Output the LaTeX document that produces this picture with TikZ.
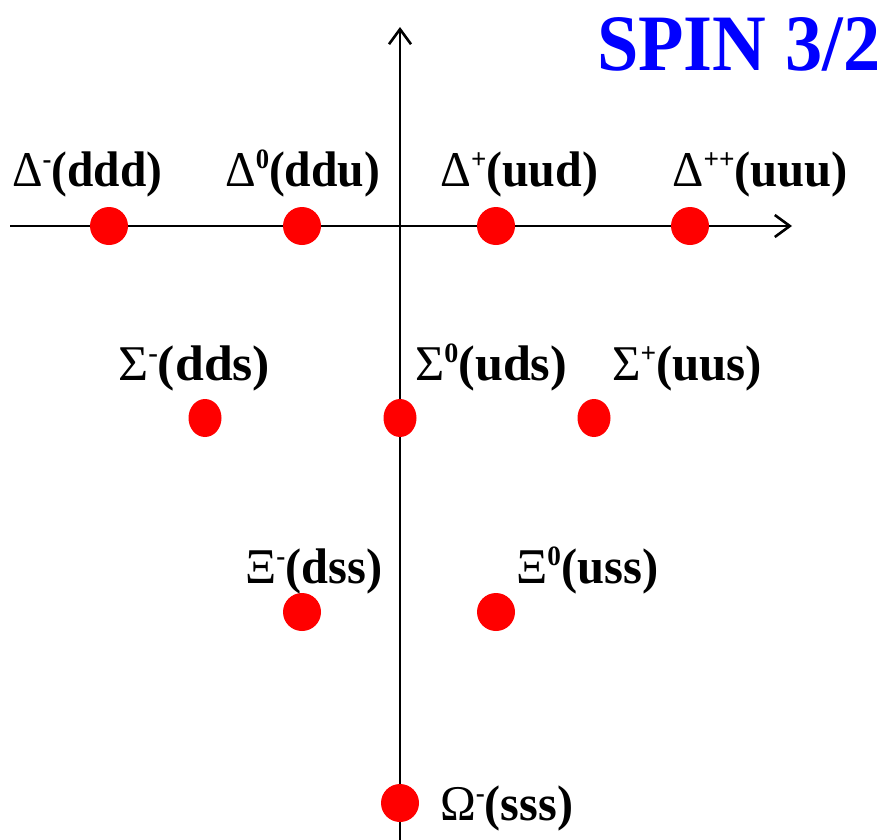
\documentclass[tikz,border=0pt]{standalone}
\usepackage{fontspec}
\setmainfont{Liberation Serif}
\usetikzlibrary{arrows.meta,shapes.geometric}
\newcommand\mylbl[2]{\resizebox{#1pt}{\height}{#2}}
\newcommand\gk[1]{{\mdseries #1}}
\newcommand\sups[1]{\raisebox{18pt}{\fontsize{28}{28}\selectfont #1}}
\tikzset{
  axis/.style={line width=2.8pt,-{Straight Barb[length=15pt,width=22pt,line width=2.6pt]}},
  dot/.style={circle,fill=red,minimum size=38pt,inner sep=0pt},
  edot/.style={ellipse,fill=red,minimum width=33pt,minimum height=38pt,inner sep=0pt},
  lblb/.style={anchor=base west,inner sep=0pt,font=\fontsize{50}{60}\selectfont\bfseries},
}
\begin{document}
\begin{tikzpicture}[x=1pt,y=-1pt]
\useasboundingbox (0,0) rectangle (886,839);
% axes
\coordinate (xl) at (10,226);
\coordinate (xr) at (792,226);
\coordinate (yb) at (400,845);
\coordinate (yt) at (400,27);
\draw[axis] (xl) -- (xr);
\draw[axis] (yb) -- (yt);
% dots
\node[dot] (dm) at (109,226) {};
\node[dot] (d0) at (302,226) {};
\node[dot] (dp) at (496,226) {};
\node[dot] (dpp) at (690,226) {};
\node[edot] (sm) at (205,418) {};
\node[edot] (s0) at (400,418) {};
\node[edot] (sp) at (594,418) {};
\node[dot] (xm) at (302,612) {};
\node[dot] (x0) at (496,612) {};
\node[dot] (om) at (400,803) {};
% labels
\node[lblb] (ldm) at (12,186) {\mylbl{150}{\gk{Δ}\sups{-}(ddd)}};
\node[lblb] (ld0) at (225,186) {\mylbl{155}{\gk{Δ}\sups{0}(ddu)}};
\node[lblb] (ldp) at (440,186) {\mylbl{158}{\gk{Δ}\sups{+}(uud)}};
\node[lblb] (ldpp) at (672,186) {\mylbl{176}{\gk{Δ}\sups{++}(uuu)}};
\node[lblb] (lsm) at (118,380) {\mylbl{152}{\gk{Σ}\sups{-}(dds)}};
\node[lblb] (ls0) at (415,380) {\mylbl{152}{\gk{Σ}\sups{0}(uds)}};
\node[lblb] (lsp) at (612,380) {\mylbl{150}{\gk{Σ}\sups{+}(uus)}};
\node[lblb] (lxm) at (245,583) {\mylbl{137}{\gk{Ξ}\sups{-}(dss)}};
\node[lblb] (lx0) at (516,583) {\mylbl{142}{\gk{Ξ}\sups{0}(uss)}};
\node[lblb] (lom) at (440,820) {\mylbl{133}{\gk{Ω}\sups{-}(sss)}};
\node[anchor=base west,inner sep=0pt,text=blue,font=\fontsize{80}{90}\selectfont\bfseries] (title) at (597,70) {\mylbl{283}{SPIN 3/2}};
\end{tikzpicture}
\end{document}
